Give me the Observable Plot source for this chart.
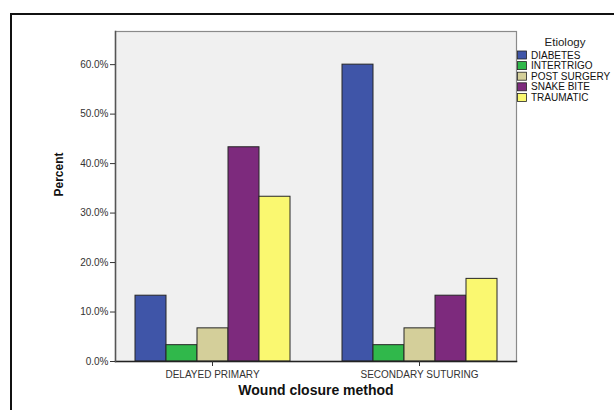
<!DOCTYPE html>
<html>
<head>
<meta charset="utf-8">
<script src="https://cdn.jsdelivr.net/npm/d3@7"></script>
<script src="https://cdn.jsdelivr.net/npm/@observablehq/plot@0.6"></script>
<style>
  html, body { margin: 0; padding: 0; background: #fff; }
  #wrap { position: relative; width: 614px; height: 410px; overflow: hidden; font-family: "Liberation Sans", Arial, sans-serif; }
  #wrap > svg { position: absolute; left: 0; top: 0; }
</style>
</head>
<body>
<div id="wrap"></div>
<script>
const groups = ["DELAYED PRIMARY", "SECONDARY SUTURING"];
const etiologies = ["DIABETES", "INTERTRIGO", "POST SURGERY", "SNAKE BITE", "TRAUMATIC"];
const colors = ["#3f55a8", "#30b84b", "#d4cf9a", "#7d2a7d", "#faf870"];
const delayedPrimary = [13.3, 3.3, 6.7, 43.3, 33.3];
const secondarySuturing = [60.0, 3.3, 6.7, 13.3, 16.7];
const yTicks = [0, 10, 20, 30, 40, 50, 60];

const data = [];
etiologies.forEach((e, i) => {
  data.push({group: groups[0], etiology: e, value: delayedPrimary[i]});
  data.push({group: groups[1], etiology: e, value: secondarySuturing[i]});
});

const chart = Plot.plot({
  width: 614,
  height: 410,
  marginLeft: 114,
  marginRight: 98,
  marginTop: 31,
  marginBottom: 49,
  style: {fontFamily: "'Liberation Sans', Arial, sans-serif", background: "transparent", overflow: "visible"},
  fx: {domain: groups, paddingInner: 0.063, paddingOuter: 0},
  x: {domain: etiologies, paddingInner: 0, paddingOuter: 0.62, axis: null},
  y: {domain: [0, 66.7], axis: null},
  color: {domain: etiologies, range: colors},
  marks: [
    Plot.frame({facet: "super", fill: "#f0f0f0", stroke: "#8a8a8a", strokeWidth: 1.2}),
    Plot.barY(data, {fx: "group", x: "etiology", y: "value", fill: "etiology", stroke: "#262626", strokeWidth: 1}),
    Plot.frame({facet: "super", anchor: "bottom", stroke: "#222", strokeWidth: 1.5}),
    Plot.frame({facet: "super", anchor: "left", stroke: "#555", strokeWidth: 1.5}),
    Plot.axisY(yTicks, {anchor: "left", tickSize: 5, tickPadding: 2, fontSize: 10, color: "#333", tickFormat: d => d.toFixed(1) + "%", label: null}),
    Plot.axisFx({anchor: "bottom", tickSize: 5, tickPadding: 4, fontSize: 10, color: "#333", label: null}),
    Plot.text(["Wound closure method"], {facet: "super", frameAnchor: "bottom", lineAnchor: "middle", dy: 29, fontSize: 14, fontWeight: "bold", fill: "#111"}),
    Plot.text(["Percent"], {facet: "super", frameAnchor: "left", dx: -56, rotate: -90, fontSize: 12, fontWeight: "bold", fill: "#111"})
  ]
});

const wrap = document.getElementById("wrap");
wrap.appendChild(chart);

// Overlay: outer frame and legend
const ov = d3.select(wrap).append("svg")
  .attr("width", 614).attr("height", 410)
  .style("pointer-events", "none")
  .style("font-family", "'Liberation Sans', Arial, sans-serif");

ov.append("rect")
  .attr("x", 11).attr("y", 14)
  .attr("width", 700).attr("height", 500)
  .attr("fill", "none").attr("stroke", "#111").attr("stroke-width", 2);

const lg = ov.append("g");
lg.append("text").attr("x", 565).attr("y", 46)
  .attr("text-anchor", "middle").attr("font-size", 11.5).attr("fill", "#222")
  .text("Etiology");
etiologies.forEach((e, i) => {
  const cy = 55 + i * 10.6;
  lg.append("rect").attr("x", 517.5).attr("y", cy - 4).attr("width", 9).attr("height", 8)
    .attr("fill", colors[i]).attr("stroke", "#222").attr("stroke-width", 0.8);
  lg.append("text").attr("x", 531).attr("y", cy + 3.5)
    .attr("font-size", 10).attr("fill", "#111")
    .text(e);
});
</script>
</body>
</html>
